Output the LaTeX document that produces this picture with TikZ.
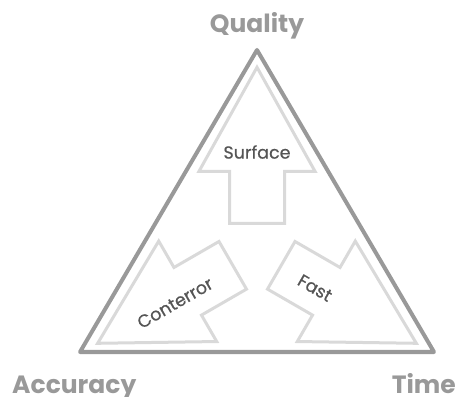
\documentclass[tikz,border=0pt]{standalone}
\usepackage{fontspec}
\newfontfamily\labelfont{Poppins}
\newfontfamily\innerfont{Poppins}[FakeBold=0.6]
\usepackage{tikz}

\definecolor{framegray}{HTML}{999999}
\definecolor{arrowgray}{HTML}{D9D9D9}
\definecolor{textgray}{HTML}{555555}

% one arrow, pointing up, centred on the middle of the triangle
\newcommand{\bigarrowpath}{(0,184) -- (58,80) -- (27.5,80) -- (27.5,28) -- (-27.5,28) -- (-27.5,80) -- (-58,80) -- cycle}

\begin{document}
\begin{tikzpicture}[x=1pt,y=1pt,
    corner/.style={font=\labelfont\bfseries\fontsize{25}{29}\selectfont, text=framegray, inner sep=0pt},
    inlabel/.style={font=\innerfont\fontsize{17.5}{20}\selectfont, text=textgray, inner sep=0pt},
    bigarrow/.style={draw=arrowgray, line width=3pt, line join=miter}]
\useasboundingbox (0,0) rectangle (460,396);

% outer triangle
\coordinate (Q) at (257,346);
\coordinate (A) at (80,44);
\coordinate (T) at (434,44);
\draw[framegray, line width=4pt, line join=round] (Q) -- (A) -- (T) -- cycle;

% the three arrows
\coordinate (mid) at (257,144.7);
\begin{scope}[shift={(mid)}]
  \draw[bigarrow] \bigarrowpath;
  \draw[bigarrow, rotate=120] \bigarrowpath;
  \draw[bigarrow, rotate=-120] \bigarrowpath;
\end{scope}

\node[inlabel] (surface) at (257,244) {Surface};
\node[inlabel, rotate=30] (conterror) at (175,93) {Conterror};
\node[inlabel, rotate=-30] (fast) at (315,108) {Fast};

% corner labels
\node[corner, anchor=base] (quality) at (257,363) {Quality};
\node[corner, anchor=base west] (accuracy) at (12,3) {Accuracy};
\node[corner, anchor=base east] (time) at (456,3) {Time};
\end{tikzpicture}
\end{document}
